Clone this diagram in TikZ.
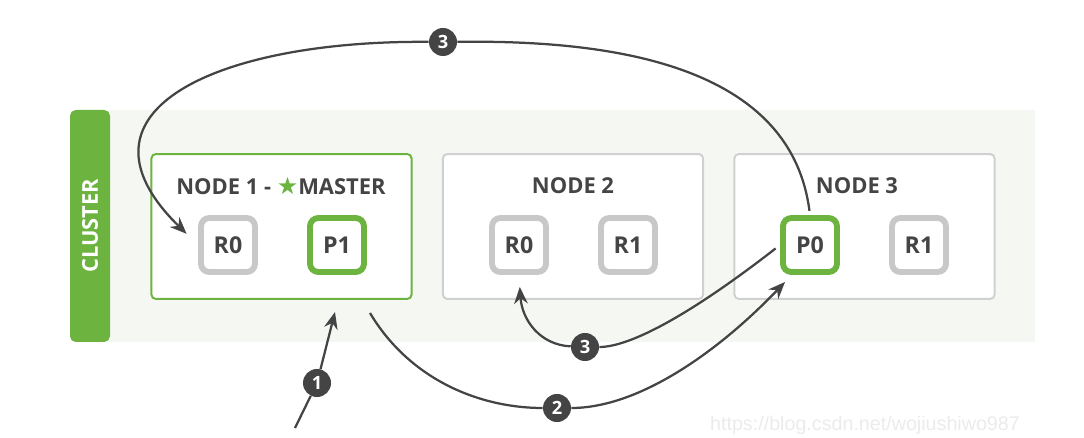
\documentclass[tikz,border=0pt]{standalone}
\usepackage{fontspec}
\setmainfont{Open Sans}
\newfontfamily\symfont{DejaVu Sans}
\newfontfamily\wmfont{Liberation Sans}
\usetikzlibrary{arrows.meta,positioning}
\definecolor{esgreen}{HTML}{6CB33F}
\definecolor{boxgray}{HTML}{D0D0D0}
\definecolor{shardgray}{HTML}{C8C8C8}
\definecolor{inkgray}{HTML}{444444}
\definecolor{panel}{HTML}{F5F7F3}

\begin{document}
\begin{tikzpicture}[x=0.025cm, y=-0.025cm,
  host/.style={draw=boxgray, line width=1.4pt, rounded corners=3pt, fill=white,
               minimum width=6.5cm, minimum height=3.62cm},
  title/.style={text=inkgray, font=\bfseries\fontsize{15.6}{18}\selectfont},
  shard/.style={draw=shardgray, line width=4.2pt, rounded corners=6pt, fill=white,
                minimum size=1.35cm, inner sep=0pt, text=inkgray,
                font=\bfseries\fontsize{16.5}{18}\selectfont},
  primary/.style={shard, draw=esgreen},
  num/.style={circle, fill=inkgray, text=white, inner sep=0pt, minimum size=0.7cm,
              font=\bfseries\fontsize{13}{15}\selectfont},
  arr/.style={draw=inkgray, line width=1.6pt, -{Stealth[length=0.42cm, width=0.34cm]}}
]
  \useasboundingbox (0,0) rectangle (1084,438);

  % cluster panel
  \fill[panel] (110,110) rectangle (1035,342);
  \fill[esgreen, rounded corners=4pt] (110,110) -- (70,110) -- (70,342) -- (110,342) -- cycle;
  \node[rotate=90, text=white, font=\bfseries\fontsize{15.5}{17}\selectfont] (CL) at (90,226) {CLUSTER};

  % hosts
  \node[host, draw=esgreen] (N1) at (281.5,226.5) {};
  \node[host]               (N2) at (573,226.5)   {};
  \node[host]               (N3) at (864.5,226.5) {};

  \node[title] (T1) at (281,186) {NODE 1 - {\symfont\fontsize{17}{18}\selectfont\textcolor{esgreen}{★}}MASTER};
  \node[title] (T2) at (573,186) {NODE 2};
  \node[title] (T3) at (857,186) {NODE 3};

  % shards
  \node[shard]   (R0a) at (228,245) {R0};
  \node[primary] (P1)  at (337,245) {P1};
  \node[shard]   (R0b) at (519,245) {R0};
  \node[shard]   (R1b) at (628,245) {R1};
  \node[primary] (P0)  at (810,245) {P0};
  \node[shard]   (R1c) at (919,245) {R1};

  % steps
  \node[num] (S1)  at (317,383) {1};
  \node[num] (S2)  at (557,408) {2};
  \node[num] (S3a) at (443,42)  {3};
  \node[num] (S3b) at (585,347) {3};

  \coordinate (in1) at (295,428);
  \coordinate (tip1) at (335,312);
  \coordinate (out2) at (370,313);
  \coordinate (tip2) at (785,282);

  \draw[draw=inkgray, line width=1.6pt] (in1) -- (S1);
  \draw[arr] (S1) -- (tip1);
  \draw[draw=inkgray, line width=1.6pt] (out2) .. controls (410,380) and (480,408) .. (S2);
  \draw[arr] (S2) .. controls (640,408) and (720,350) .. (tip2);
  \draw[draw=inkgray, line width=1.6pt, shorten <=3pt] (P0.north) .. controls (790,60) and (600,40) .. (S3a);
  \draw[arr, shorten >=0.4cm] (S3a) .. controls (220,40) and (60,110) .. (R0a.west);
  \draw[draw=inkgray, line width=1.6pt, shorten <=4pt] (P0.west) .. controls (690,315) and (630,347) .. (S3b);
  \draw[arr, shorten >=0.3cm] (S3b) .. controls (540,345) and (522,320) .. (R0b.south);

  \node[text=black!8, font=\wmfont\fontsize{14}{16}\selectfont] (WM) at (865,425) {https://blog.csdn.net/wojiushiwo987};
\end{tikzpicture}
\end{document}
